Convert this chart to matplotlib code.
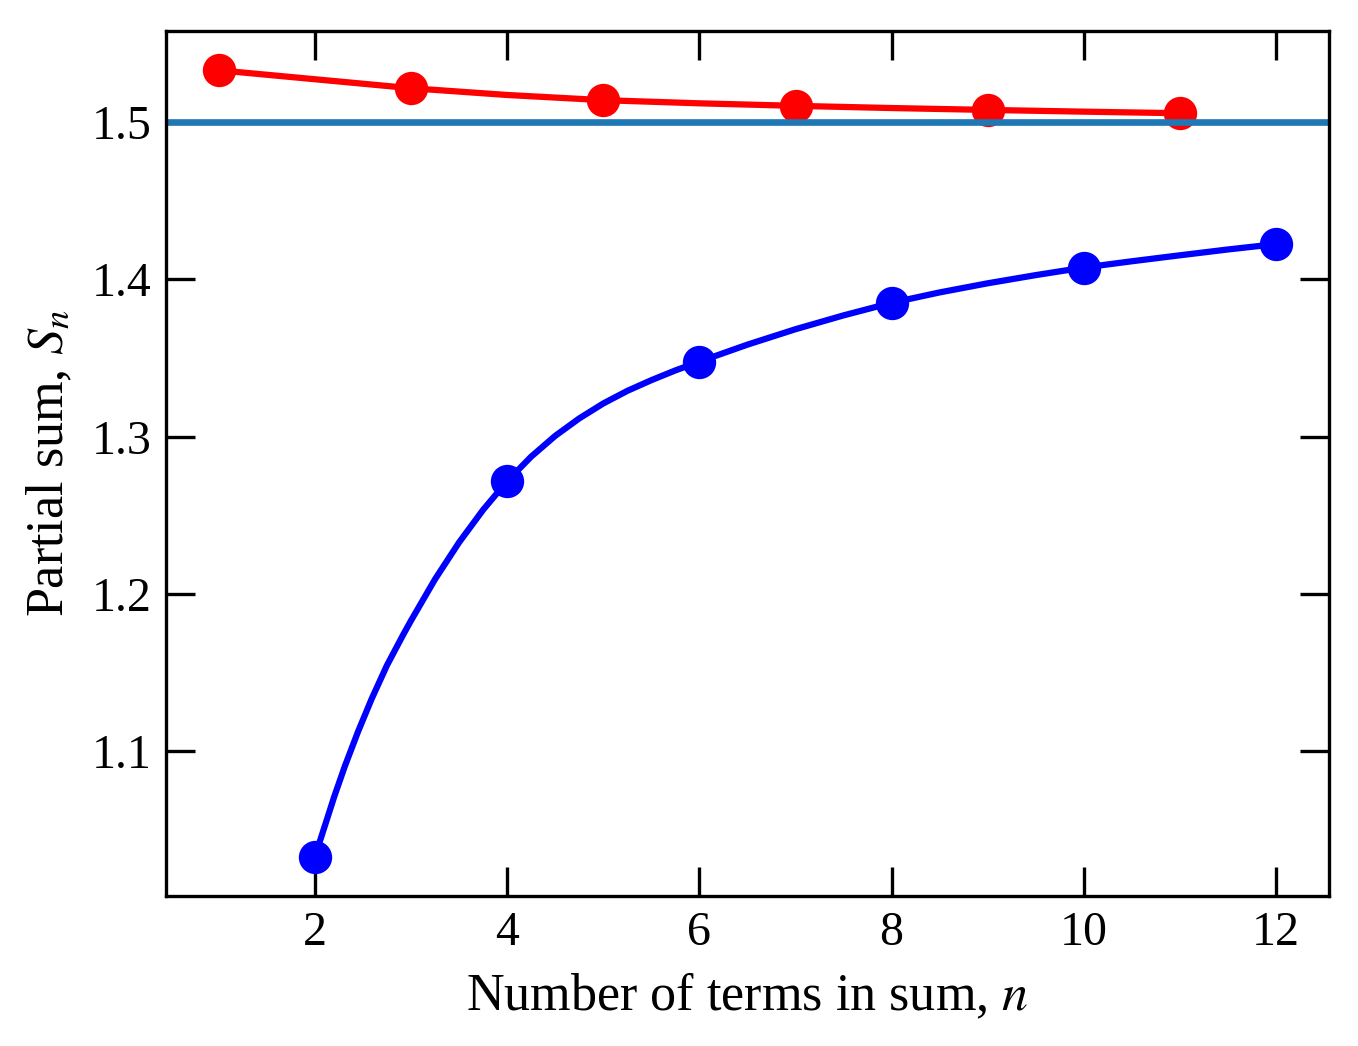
import matplotlib
matplotlib.use("Agg")
import matplotlib.pyplot as plt

# partial sums at the marked terms
n_odd = [1, 3, 5, 7, 9, 11]
s_odd = [1.5328, 1.5214, 1.5138, 1.5102, 1.5076, 1.5055]
n_even = [2, 4, 6, 8, 10, 12]
s_even = [1.0329, 1.2716, 1.3476, 1.3850, 1.4074, 1.4223]

# smooth curves
n_red_curve = [1, 2, 3, 4, 5, 6, 7, 8, 9, 10, 11]
s_red_curve = [1.5328, 1.5271, 1.5214, 1.5171, 1.5138, 1.5118, 1.5102,
               1.5088, 1.5076, 1.5065, 1.5055]
n_blue_curve = [2, 2.2, 2.31, 2.45, 2.59, 2.75, 2.92, 3.0, 3.25, 3.5, 3.75,
                4, 4.25, 4.5, 4.75, 5, 5.25, 5.5, 5.75, 6, 6.5, 7, 7.5,
                8, 8.5, 9, 9.5, 10, 10.5, 11, 11.5, 12]
s_blue_curve = [1.0329, 1.0709, 1.0902, 1.1126, 1.1332, 1.1546, 1.1742,
                1.1830, 1.2093, 1.2327, 1.2534, 1.2716, 1.2872, 1.3004,
                1.3115, 1.3210, 1.3290, 1.3358, 1.3420, 1.3476, 1.3584,
                1.3682, 1.3770, 1.3850, 1.3916, 1.3974, 1.4026, 1.4074,
                1.4114, 1.4152, 1.4189, 1.4223]

limit = 1.5

plt.rcParams["font.family"] = ["Liberation Serif", "DejaVu Serif"]
plt.rcParams["mathtext.fontset"] = "stix"
plt.rcParams["font.size"] = 11

fig = plt.figure(figsize=(1358 / 300, 1046 / 300), dpi=300)
ax = fig.add_axes([0.1222, 0.1434, 0.8564, 0.8270])

ax.plot(n_red_curve, s_red_curve, color="red", lw=1.5)
ax.plot(n_odd, s_odd, "o", color="red", ms=7)
ax.plot(n_blue_curve, s_blue_curve, color="blue", lw=1.5)
ax.plot(n_even, s_even, "o", color="blue", ms=7)
ax.axhline(limit, color="#1f77b4", lw=1.6)

ax.set_xticks([2, 4, 6, 8, 10, 12])
ax.set_yticks([1.1, 1.2, 1.3, 1.4, 1.5])
ax.tick_params(direction="in", length=7, width=0.8, top=True, right=True,
               labelsize=11.5)
ax.set_xlabel("Number of terms in sum, $n$", fontsize=12.5)
ax.set_ylabel("Partial sum, $S_n$", fontsize=12.5)

fig.savefig("out.png", dpi=300)
